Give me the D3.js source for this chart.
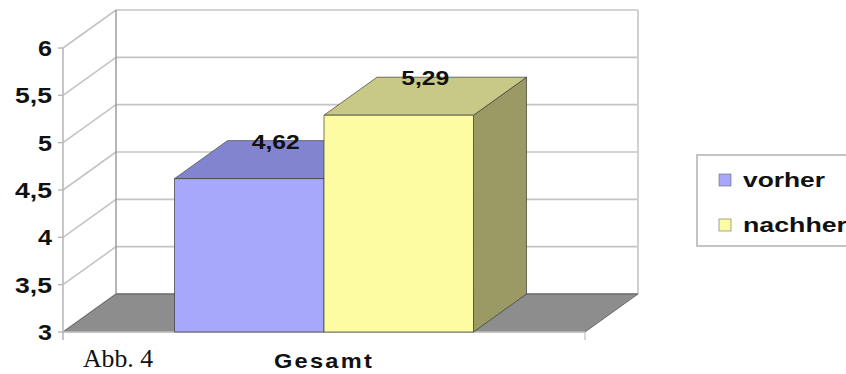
<!DOCTYPE html>
<html>
<head>
<meta charset="utf-8">
<script src="https://cdn.jsdelivr.net/npm/d3@7/dist/d3.min.js"></script>
<style>
  html, body { margin: 0; padding: 0; background: #fff; }
  svg { display: block; }
</style>
</head>
<body>
<svg id="chart" width="846" height="374"></svg>
<script>
// Data
const categories = ["Gesamt"];
const seriesNames = ["vorher", "nachher"];
const seriesValues = [4.62, 5.29];
const tickValues = [3, 3.5, 4, 4.5, 5, 5.5, 6];
const tickLabels = ["3", "3,5", "4", "4,5", "5", "5,5", "6"];
const valueLabels = ["4,62", "5,29"];

// Styling
const fronts = ["#a7a8fb", "#fdfca2"];
const tops = ["#8384cf", "#c9c987"];
const sides = ["#6d6eac", "#9b9a64"];

const svg = d3.select("#chart");

// 3D box geometry: front plane + depth offset
const x0 = 63, x1 = 585;
const depth = { dx: 53, dy: -38 };

const y = d3.scaleLinear().domain([3, 6]).range([332, 48]);
const xCat = d3.scaleBand().domain(categories).range([x0, x1]).paddingInner(0).paddingOuter(0.373);
const xSer = d3.scaleBand().domain(seriesNames).range([0, xCat.bandwidth()]);

const gridColor = "#c4c4c4";
const edgeColor = "#8f8f8f";
const yMin = y.domain()[0];
const sans = "Liberation Sans, Arial, sans-serif";

// Back wall and left wall gridlines
const g = svg.append("g");
g.selectAll(".backgrid").data(tickValues).join("line")
  .attr("x1", x0 + depth.dx).attr("x2", x1 + depth.dx)
  .attr("y1", d => y(d) + depth.dy).attr("y2", d => y(d) + depth.dy)
  .attr("stroke", d => d === yMin ? edgeColor : gridColor).attr("stroke-width", 1.6);

g.selectAll(".sidegrid").data(tickValues).join("line")
  .attr("x1", x0).attr("x2", x0 + depth.dx)
  .attr("y1", d => y(d)).attr("y2", d => y(d) + depth.dy)
  .attr("stroke", gridColor).attr("stroke-width", 1.6);

// Wall edges
const yTop = y(6), yBot = y(3);
g.append("line").attr("x1", x0 + depth.dx).attr("x2", x0 + depth.dx)
  .attr("y1", yTop + depth.dy).attr("y2", yBot + depth.dy)
  .attr("stroke", edgeColor).attr("stroke-width", 1.3);
g.append("line").attr("x1", x1 + depth.dx).attr("x2", x1 + depth.dx)
  .attr("y1", yTop + depth.dy).attr("y2", yBot + depth.dy)
  .attr("stroke", "#d0d0d0").attr("stroke-width", 2);
g.append("line").attr("x1", x0).attr("x2", x0)
  .attr("y1", yTop).attr("y2", yBot + 8)
  .attr("stroke", "#b8b8b8").attr("stroke-width", 1.6);

// Floor
const floorPts = [
  [x0, yBot], [x1, yBot], [x1 + depth.dx, yBot + depth.dy], [x0 + depth.dx, yBot + depth.dy]
];
g.append("polygon").attr("points", floorPts.map(p => p.join(",")).join(" "))
  .attr("fill", "#8d8d8d").attr("stroke", "#555").attr("stroke-width", 0.8);
g.append("line").attr("x1", x0).attr("x2", x1).attr("y1", yBot).attr("y2", yBot)
  .attr("stroke", "#c8c8c8").attr("stroke-width", 1.4);
g.append("line").attr("x1", x1).attr("x2", x1).attr("y1", yBot).attr("y2", yBot + 8)
  .attr("stroke", "#c8c8c8").attr("stroke-width", 1.4);

// Value axis tick marks and labels
g.selectAll(".tick").data(tickValues).join("line")
  .attr("x1", x0 - 5).attr("x2", x0)
  .attr("y1", d => y(d)).attr("y2", d => y(d))
  .attr("stroke", "#b8b8b8").attr("stroke-width", 1.4);

g.selectAll(".ticklabel").data(tickValues).join("text")
  .attr("x", 52).attr("y", d => y(d) + 8)
  .attr("text-anchor", "end")
  .attr("font-family", sans)
  .attr("font-weight", "bold").attr("font-size", 22)
  .attr("fill", "#111")
  .attr("textLength", (d, i) => tickLabels[i].length === 1 ? 14 : 37)
  .attr("lengthAdjust", "spacingAndGlyphs")
  .text((d, i) => tickLabels[i]);

// Bars as 3D boxes
const bars = g.append("g");
seriesNames.forEach((s, i) => {
  const v = seriesValues[i];
  const bx0 = xCat(categories[0]) + xSer(s);
  const bx1 = bx0 + xSer.bandwidth();
  const by = y(v);
  const { dx, dy } = depth;
  const side = [[bx1, by], [bx1 + dx, by + dy], [bx1 + dx, yBot + dy], [bx1, yBot]];
  const top = [[bx0, by], [bx0 + dx, by + dy], [bx1 + dx, by + dy], [bx1, by]];
  const front = [[bx0, by], [bx1, by], [bx1, yBot], [bx0, yBot]];
  const poly = (pts, fill) => bars.append("polygon")
    .attr("points", pts.map(p => p.join(",")).join(" "))
    .attr("fill", fill).attr("stroke", "#3a3a3a").attr("stroke-width", 0.7)
    .attr("stroke-linejoin", "round");
  poly(side, sides[i]);
  poly(top, tops[i]);
  poly(front, fronts[i]);

  bars.append("text")
    .attr("x", (bx0 + bx1) / 2 + dx / 2)
    .attr("y", by + dy + 8)
    .attr("text-anchor", "middle")
    .attr("font-family", sans)
    .attr("font-weight", "bold").attr("font-size", 21)
    .attr("fill", "#111")
    .attr("textLength", 48).attr("lengthAdjust", "spacingAndGlyphs")
    .text(valueLabels[i]);
});

// Category label
g.append("text")
  .attr("x", xCat(categories[0]) + xCat.bandwidth() / 2)
  .attr("y", 368)
  .attr("text-anchor", "middle")
  .attr("font-family", sans)
  .attr("font-weight", "bold").attr("font-size", 21)
  .attr("letter-spacing", 2)
  .attr("fill", "#111")
  .attr("textLength", 100).attr("lengthAdjust", "spacingAndGlyphs")
  .text(categories[0]);

// Figure caption
g.append("text")
  .attr("x", 83).attr("y", 367)
  .attr("font-family", "Liberation Serif, Times New Roman, serif")
  .attr("font-size", 26)
  .attr("fill", "#111")
  .attr("textLength", 70).attr("lengthAdjust", "spacingAndGlyphs")
  .text("Abb. 4");

// Legend
const leg = svg.append("g");
leg.append("rect").attr("x", 697).attr("y", 155).attr("width", 170).attr("height", 91)
  .attr("fill", "#fff").attr("stroke", "#c4c4c4").attr("stroke-width", 2);
seriesNames.forEach((s, i) => {
  const ly = 174 + i * 45;
  leg.append("rect").attr("x", 719).attr("y", ly).attr("width", 12).attr("height", 12)
    .attr("fill", fronts[i]).attr("stroke", "#666").attr("stroke-width", 0.6);
  leg.append("text").attr("x", 743).attr("y", ly + 13)
    .attr("font-family", sans)
    .attr("font-weight", "bold").attr("font-size", 20)
    .attr("fill", "#111")
    .attr("textLength", s.length === 6 ? 82 : 104).attr("lengthAdjust", "spacingAndGlyphs")
    .text(s);
});
</script>
</body>
</html>
